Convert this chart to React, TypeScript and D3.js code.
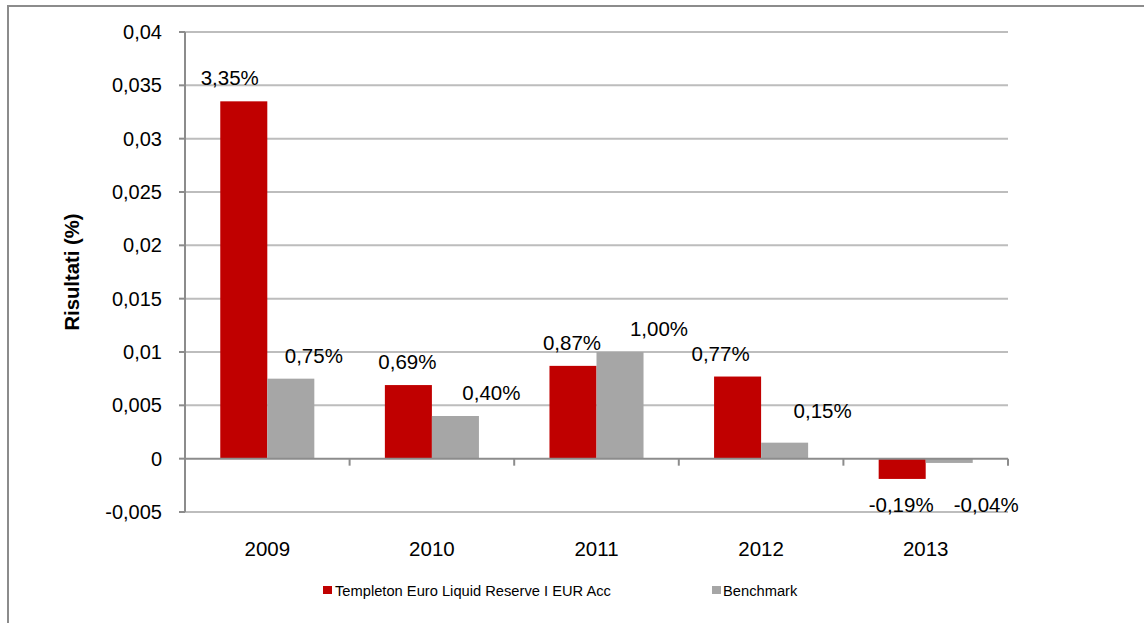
import React from "react";
import * as d3 from "d3";

const categories = ["2009", "2010", "2011", "2012", "2013"];
const seriesNames = ["Templeton Euro Liquid Reserve I EUR Acc", "Benchmark"];
const fundValues = [0.0335, 0.0069, 0.0087, 0.0077, -0.0019];
const benchmarkValues = [0.0075, 0.004, 0.01, 0.0015, -0.0004];
const fundLabels = ["3,35%", "0,69%", "0,87%", "0,77%", "-0,19%"];
const benchmarkLabels = ["0,75%", "0,40%", "1,00%", "0,15%", "-0,04%"];
const yTicks = [-0.005, 0, 0.005, 0.01, 0.015, 0.02, 0.025, 0.03, 0.035, 0.04];
const yTickLabels = ["-0,005", "0", "0,005", "0,01", "0,015", "0,02", "0,025", "0,03", "0,035", "0,04"];
const colors = ["#c00000", "#a6a6a6"];

// manual label nudges (px), as placed in the original chart
const fundLabelDx = [-14, -1, -1, -17, -1];
const benchLabelDx = [23, 36, 39, 38, 37];
const benchLabelDy = [0, 0, 0, -9, 0];

export default function App() {
  const W = 1144, H = 623;
  const left = 185, right = 1008, top = 32, bottom = 512;
  const y = d3.scaleLinear().domain([-0.005, 0.04]).range([bottom, top]);
  const x0 = d3.scaleBand().domain(categories).range([left, right]).paddingInner(0).paddingOuter(0);
  const x1 = d3.scaleBand().domain(seriesNames).range([0, x0.bandwidth()]).paddingInner(0).paddingOuter(0.75);
  const font = "Liberation Sans, Arial, sans-serif";
  const allValues = [fundValues, benchmarkValues];
  const allLabels = [fundLabels, benchmarkLabels];
  const dxs = [fundLabelDx, benchLabelDx];
  const dys = [[0, 0, 0, 0, 0], benchLabelDy];
  const y0 = y(0);

  return (
    <svg width={W} height={H} style={{ position: "absolute", left: 0, top: 0, background: "#fff" }} fontFamily={font}>
      <rect x={8} y={6} width={W + 20} height={H + 20} fill="none" stroke="#8c8c8c" strokeWidth={2} />
      {/* gridlines */}
      {yTicks.filter((t) => t !== 0).map((t) => (
        <line key={"g" + t} x1={left} x2={right} y1={y(t)} y2={y(t)} stroke="#bdbdbd" strokeWidth={2} />
      ))}
      {/* bars */}
      {categories.map((c, i) => (
        <g key={c}>
          {seriesNames.map((s, k) => {
            const v = allValues[k][i];
            const bx = (x0(c) as number) + (x1(s) as number);
            return (
              <rect key={s} x={bx} y={Math.min(y(v), y0)} width={x1.bandwidth()} height={Math.abs(y(v) - y0)} fill={colors[k]} />
            );
          })}
        </g>
      ))}
      {/* y axis */}
      <line x1={left} x2={left} y1={top} y2={bottom} stroke="#8c8c8c" strokeWidth={2} />
      {yTicks.map((t, i) => (
        <g key={"yt" + t}>
          <line x1={left - 6} x2={left} y1={y(t)} y2={y(t)} stroke="#8c8c8c" strokeWidth={2} />
          <text x={162} y={y(t)} dy="0.35em" textAnchor="end" fontSize={20} fill="#000">{yTickLabels[i]}</text>
        </g>
      ))}
      {/* x axis at zero */}
      <line x1={left} x2={right} y1={y0} y2={y0} stroke="#8c8c8c" strokeWidth={2} />
      {categories.map((c) => (
        <line key={"xt" + c} x1={(x0(c) as number) + x0.bandwidth()} x2={(x0(c) as number) + x0.bandwidth()} y1={y0} y2={y0 + 7} stroke="#8c8c8c" strokeWidth={2} />
      ))}
      {categories.map((c) => (
        <text key={"xl" + c} x={(x0(c) as number) + x0.bandwidth() / 2} y={556} textAnchor="middle" fontSize={20.5} fill="#000">{c}</text>
      ))}
      {/* data labels */}
      {categories.map((c, i) =>
        seriesNames.map((s, k) => {
          const v = allValues[k][i];
          const cx = (x0(c) as number) + (x1(s) as number) + x1.bandwidth() / 2 + dxs[k][i];
          const ty = v >= 0 ? y(v) - 16 + dys[k][i] : y(-0.005);
          return (
            <text key={"dl" + c + s} x={cx} y={ty} textAnchor="middle" fontSize={20.5} fill="#000">{allLabels[k][i]}</text>
          );
        })
      )}
      {/* axis title */}
      <text transform={`translate(79,272) rotate(-90)`} textAnchor="middle" fontSize={20.3} fontWeight="bold" fill="#000">Risultati (%)</text>
      {/* legend */}
      <rect x={323} y={586} width={9} height={8} fill={colors[0]} />
      <text x={335} y={596} fontSize={14.7} fill="#000">{seriesNames[0]}</text>
      <rect x={712} y={586} width={9} height={8} fill={colors[1]} />
      <text x={723} y={596} fontSize={14.7} fill="#000">{seriesNames[1]}</text>
    </svg>
  );
}
